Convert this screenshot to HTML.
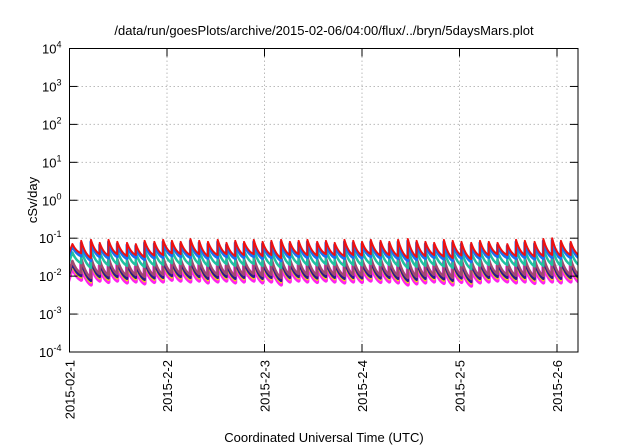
<!DOCTYPE html>
<html><head><meta charset="utf-8">
<style>
html,body{margin:0;padding:0;background:#fff;}
svg{display:block;font-family:"Liberation Sans",sans-serif;}
</style></head>
<body>
<svg id="chart" width="640" height="448" viewBox="0 0 640 448" xmlns="http://www.w3.org/2000/svg">
<defs><clipPath id="plotclip"><rect x="69.5" y="48.5" width="508.5" height="303.5"/></clipPath></defs>
<text x="324" y="35" font-size="13" text-anchor="middle" fill="#000">/data/run/goesPlots/archive/2015-02-06/04:00/flux/../bryn/5daysMars.plot</text>
<text transform="translate(37,200) rotate(-90)" font-size="13" text-anchor="middle">cSv/day</text>
<text x="324" y="442" font-size="13" text-anchor="middle">Coordinated Universal Time (UTC)</text>
<g id="grid"></g>
<g id="series" clip-path="url(#plotclip)"></g>
<g id="axes"></g>
</svg>
<script>
const yTickExps = [-4,-3,-2,-1,0,1,2,3,4];
const xTickDays = [0,1,2,3,4,5];
const xTickLabels = ["2015-02-1","2015-2-2","2015-2-3","2015-2-4","2015-2-5","2015-2-6"];
const peakTimes = [0.03,0.12,0.22,0.31,0.40,0.49,0.59,0.68,0.77,0.87,0.96,1.05,1.14,1.24,1.33,1.42,1.52,1.61,1.70,1.79,1.89,1.98,2.07,2.17,2.26,2.35,2.44,2.54,2.63,2.72,2.82,2.91,3.00,3.09,3.19,3.28,3.37,3.47,3.56,3.65,3.74,3.84,3.93,4.02,4.12,4.21,4.30,4.39,4.49,4.58,4.67,4.77,4.86,4.95,5.04,5.14];
const peakVals = [0.070,0.085,0.090,0.075,0.090,0.080,0.075,0.070,0.085,0.080,0.090,0.085,0.080,0.095,0.085,0.080,0.090,0.075,0.085,0.080,0.090,0.080,0.085,0.090,0.080,0.085,0.090,0.080,0.085,0.075,0.090,0.085,0.080,0.090,0.085,0.080,0.090,0.095,0.085,0.080,0.075,0.090,0.085,0.080,0.075,0.085,0.080,0.075,0.070,0.090,0.085,0.080,0.095,0.100,0.085,0.080];
const troughVals = [0.040,0.030,0.038,0.035,0.038,0.034,0.036,0.032,0.035,0.036,0.040,0.038,0.036,0.038,0.034,0.036,0.038,0.034,0.036,0.038,0.034,0.036,0.030,0.036,0.038,0.036,0.035,0.038,0.036,0.034,0.036,0.035,0.038,0.035,0.036,0.034,0.030,0.032,0.034,0.036,0.033,0.030,0.035,0.028,0.034,0.036,0.038,0.036,0.034,0.036,0.033,0.034,0.036,0.034,0.036,0.034];
const seriesNames = ["magenta","yellow","navy","brown","teal","blue","red"];
const seriesColors = ["#ff22ee","#f5e000","#2a1a8a","#a04a70","#20c0a0","#1a70f0","#ee1010"];
const seriesWidths = [4,2.5,2.5,2.5,2.5,3,2];
const seriesPeakScale = [0.25,0.28,0.30,0.36,0.60,0.88,1.0];
const seriesTroughScale = [0.20,0.23,0.25,0.30,0.55,0.85,1.0];

const NS="http://www.w3.org/2000/svg";
const L=69.5,R=578,T=48.5,B=352;
const dayPx=97.5;
function xScale(d){return L+d*dayPx;}
function yScale(v){return B-(Math.log10(v)+4)*(B-T)/8;}
function mk(tag,attrs,parent){const e=document.createElementNS(NS,tag);for(const k in attrs)e.setAttribute(k,attrs[k]);parent.appendChild(e);return e;}
const grid=document.getElementById('grid'),axes=document.getElementById('axes'),ser=document.getElementById('series');

yTickExps.forEach(ex=>{
  const y=yScale(Math.pow(10,ex));
  if(ex>-4&&ex<4){const g=mk('line',{x1:L,x2:R,y1:y,y2:y,stroke:'#bbb','stroke-width':1,'stroke-dasharray':'1.5,2.5'},grid);
  
  }
  const t=mk('line',{x1:L,x2:L+8,y1:y,y2:y,stroke:'#000','stroke-width':1},axes);
  
  
  const t2=mk('line',{x1:R-8,x2:R,y1:y,y2:y,stroke:'#000','stroke-width':1},axes);
  
  
  const tx=mk('text',{x:L-8,y:y+5,'font-size':13,'text-anchor':'end'},axes);
  
  
  tx.textContent='10';
  const sp=mk('tspan',{dy:-6,'font-size':9},tx);sp.textContent=String(ex);
});
xTickDays.forEach((d,i)=>{
  const x=xScale(d);
  if(d>0){const g=mk('line',{x1:x,x2:x,y1:T,y2:B,stroke:'#bbb','stroke-width':1,'stroke-dasharray':'1.5,2.5'},grid);
  
  }
  const t=mk('line',{x1:x,x2:x,y1:B,y2:B-8,stroke:'#000','stroke-width':1},axes);
  
  
  const t2=mk('line',{x1:x,x2:x,y1:T,y2:T+8,stroke:'#000','stroke-width':1},axes);
  
  
  const tx=mk('text',{transform:`translate(${x+5},360) rotate(-90)`,'font-size':13,'text-anchor':'end'},axes);
  
  
  tx.textContent=xTickLabels[i];
});
const fr=mk('rect',{x:L,y:T,width:R-L,height:B-T,fill:'none',stroke:'#000','stroke-width':1},axes);



const endDay=(R-L)/dayPx+0.02;
seriesNames.forEach((nm,s)=>{
  let d='';
  for(let i=0;i<peakTimes.length;i++){
    const t0=peakTimes[i];
    let t1=i+1<peakTimes.length?peakTimes[i+1]:endDay;
    if(t1<=t0)t1=t0+0.01;
    const p=peakVals[i]*seriesPeakScale[s], q=troughVals[i]*seriesTroughScale[s];
    const x0=xScale(t0),x1=xScale(t1),y0=yScale(p),y1=yScale(q);
    if(i===0){d+=`M${L-2},${yScale(troughVals[0]*seriesTroughScale[s]*0.8)} L${x0},${y0}`;}
    else d+=` L${x0},${y0}`;
    d+=` Q${x0+(x1-x0)*0.4},${y1-(y1-y0)*0.2} ${x1},${y1}`;
  }
  const path=mk('path',{d:d,fill:'none',stroke:seriesColors[s],'stroke-width':seriesWidths[s],'stroke-linejoin':'round'},ser);
  
  
});
</script>
</body></html>
